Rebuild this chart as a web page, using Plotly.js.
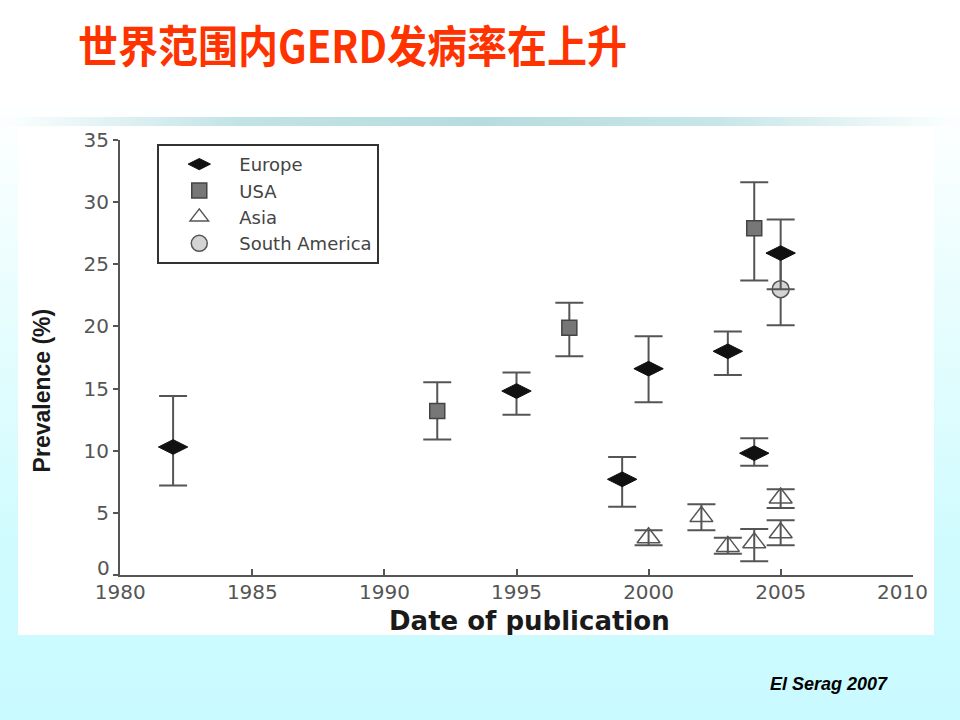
<!DOCTYPE html>
<html>
<head>
<meta charset="utf-8">
<script src="https://cdn.plot.ly/plotly-3.0.1.min.js"></script>
<style>
  html, body { margin: 0; padding: 0; }
  body {
    width: 960px; height: 720px; position: relative; overflow: hidden;
    background: linear-gradient(to bottom, #ffffff 0%, #ffffff 14%, #e6fdfe 45%, #d0fbfe 75%, #c9faff 100%);
  }
  #title {
    position: absolute; left: 78px; top: 12px;
    font-family: "Noto Sans CJK SC", sans-serif; font-weight: bold;
    font-size: 40px; color: #ff3300; white-space: nowrap;
    transform: scale(1, 1.1); transform-origin: left top;
  }
  #bar {
    position: absolute; left: 0; top: 117px; width: 960px; height: 9px;
    background: linear-gradient(to right, rgba(185,221,224,0) 0%, #c2e3e6 25%, #b7dcdf 50%, #c8e6e8 75%, rgba(200,230,232,0) 100%);
  }
  #chart {
    position: absolute; left: 18px; top: 127px; width: 916px; height: 508px; background: #ffffff;
  }
  #foot {
    position: absolute; left: 770px; top: 674px;
    font-family: "Liberation Sans", Arial, sans-serif; font-weight: bold; font-style: italic;
    font-size: 18px; color: #000;
  }
</style>
</head>
<body>
<div id="title">世界范围内GERD发病率在上升</div>
<div id="bar"></div>
<div id="chart"></div>
<div id="foot">El Serag 2007</div>
<script>
// Europe
const europeYear = [1982, 1995, 1999, 2000, 2003, 2004, 2005];
const europeVal  = [10.3, 14.8, 7.7, 16.6, 18.0, 9.8, 25.9];
const europeHi   = [14.4, 16.3, 9.5, 19.2, 19.6, 11.0, 28.6];
const europeLo   = [7.2, 12.9, 5.5, 13.9, 16.1, 8.8, 23.0];
// USA
const usaYear = [1992, 1997, 2004];
const usaVal  = [13.2, 19.9, 27.9];
const usaHi   = [15.5, 21.9, 31.6];
const usaLo   = [10.9, 17.6, 23.7];
// Asia
const asiaYear = [2000, 2002, 2003, 2004, 2005, 2005];
const asiaVal  = [3.0, 4.7, 2.3, 2.6, 6.2, 3.4];
const asiaHi   = [3.6, 5.7, 3.0, 3.7, 6.9, 4.4];
const asiaLo   = [2.4, 3.6, 1.7, 1.1, 5.4, 2.4];
// South America
const saYear = [2005];
const saVal  = [23.0];
const saHi   = [25.9];
const saLo   = [20.1];

const seriesNames = ["Europe", "USA", "Asia", "South America"];
const xTicks = [1980, 1985, 1990, 1995, 2000, 2005, 2010];
const yTicks = [0, 5, 10, 15, 20, 25, 30, 35];
const xTitle = 'Date of publication';
const yTitle = 'Prevalence (%)';

function err(v, hi, lo) {
  return {
    type: 'data', symmetric: false,
    array: hi.map((h, i) => +(h - v[i]).toFixed(2)),
    arrayminus: lo.map((l, i) => +(v[i] - l).toFixed(2)),
    color: '#555555', thickness: 2, width: 14
  };
}

const traces = [
  { x: saYear, y: saVal, name: seriesNames[3], mode: 'markers', type: 'scatter', legendrank: 4,
    error_y: err(saVal, saHi, saLo),
    marker: { symbol: 'circle', size: 17, color: '#d4d4d4', line: { color: '#555555', width: 1.5 } } },
  { x: europeYear, y: europeVal, name: seriesNames[0], mode: 'markers', type: 'scatter', legendrank: 1,
    error_y: err(europeVal, europeHi, europeLo),
    marker: { symbol: 'diamond-wide', size: 21, color: '#111111', line: { color: '#111111', width: 1 } } },
  { x: usaYear, y: usaVal, name: seriesNames[1], mode: 'markers', type: 'scatter', legendrank: 2,
    error_y: err(usaVal, usaHi, usaLo),
    marker: { symbol: 'square', size: 15, color: '#777777', line: { color: '#444444', width: 1.5 } } },
  { x: asiaYear, y: asiaVal, name: seriesNames[2], mode: 'markers', type: 'scatter', legendrank: 3,
    error_y: err(asiaVal, asiaHi, asiaLo),
    marker: { symbol: 'triangle-up-open', size: 20, color: '#555555', line: { color: '#555555', width: 1.5 } } }
];

const tickFont = { family: 'DejaVu Sans, sans-serif', size: 20, color: '#555555' };
const lastX = xTicks[xTicks.length - 1];

const layout = {
  width: 916, height: 508,
  margin: { l: 102, r: 21, t: 13, b: 60 },
  paper_bgcolor: '#ffffff', plot_bgcolor: '#ffffff',
  showlegend: true,
  legend: {
    x: 0.047, y: 0.991, xanchor: 'left', yanchor: 'top',
    bgcolor: '#ffffff', bordercolor: '#333333', borderwidth: 2,
    font: { family: 'DejaVu Sans, sans-serif', size: 18, color: '#444444' },
    tracegroupgap: 0, itemwidth: 70, traceorder: 'normal'
  },
  xaxis: {
    range: [1979.99, 2010.01], tickvals: xTicks,
    ticktext: xTicks.map(v => v === lastX ? '' : String(v)),
    ticks: 'inside', ticklen: 6, tickwidth: 2, tickcolor: '#555555',
    showline: true, linecolor: '#555555', linewidth: 2,
    showgrid: false, zeroline: false, tickfont: tickFont, ticklabelstandoff: -2
  },
  yaxis: {
    range: [0, 35], tickvals: yTicks, ticktext: yTicks.map(v => v === 0 ? '' : String(v)),
    ticks: 'outside', ticklen: 5, tickwidth: 2, tickcolor: '#555555',
    showline: true, linecolor: '#555555', linewidth: 2,
    showgrid: false, zeroline: false, tickfont: tickFont
  },
  annotations: [
    { text: String(yTicks[0]), xref: 'paper', yref: 'y', x: 0, y: yTicks[0], xanchor: 'right', yanchor: 'middle',
      xshift: -8, yshift: 7, showarrow: false, font: tickFont },
    { text: String(lastX), xref: 'x', yref: 'paper', x: lastX, y: 0, xanchor: 'right', yanchor: 'middle',
      xshift: 17, yshift: -17, showarrow: false, font: tickFont },
    { text: '<b>' + yTitle + '</b>', xref: 'paper', yref: 'paper', x: -0.098, y: 0.425, textangle: -90,
      xanchor: 'center', yanchor: 'middle', showarrow: false,
      font: { family: 'Liberation Sans Narrow, Liberation Sans, sans-serif', size: 23, color: '#1a1a1a' } },
    { text: '<b>' + xTitle + '</b>', xref: 'paper', yref: 'paper', x: 0.517, y: 0, yshift: -46,
      xanchor: 'center', yanchor: 'middle', showarrow: false,
      font: { family: 'DejaVu Sans, sans-serif', size: 26, color: '#1a1a1a' } }
  ]
};

Plotly.newPlot('chart', traces, layout, { displayModeBar: false, staticPlot: true });
</script>
</body>
</html>
